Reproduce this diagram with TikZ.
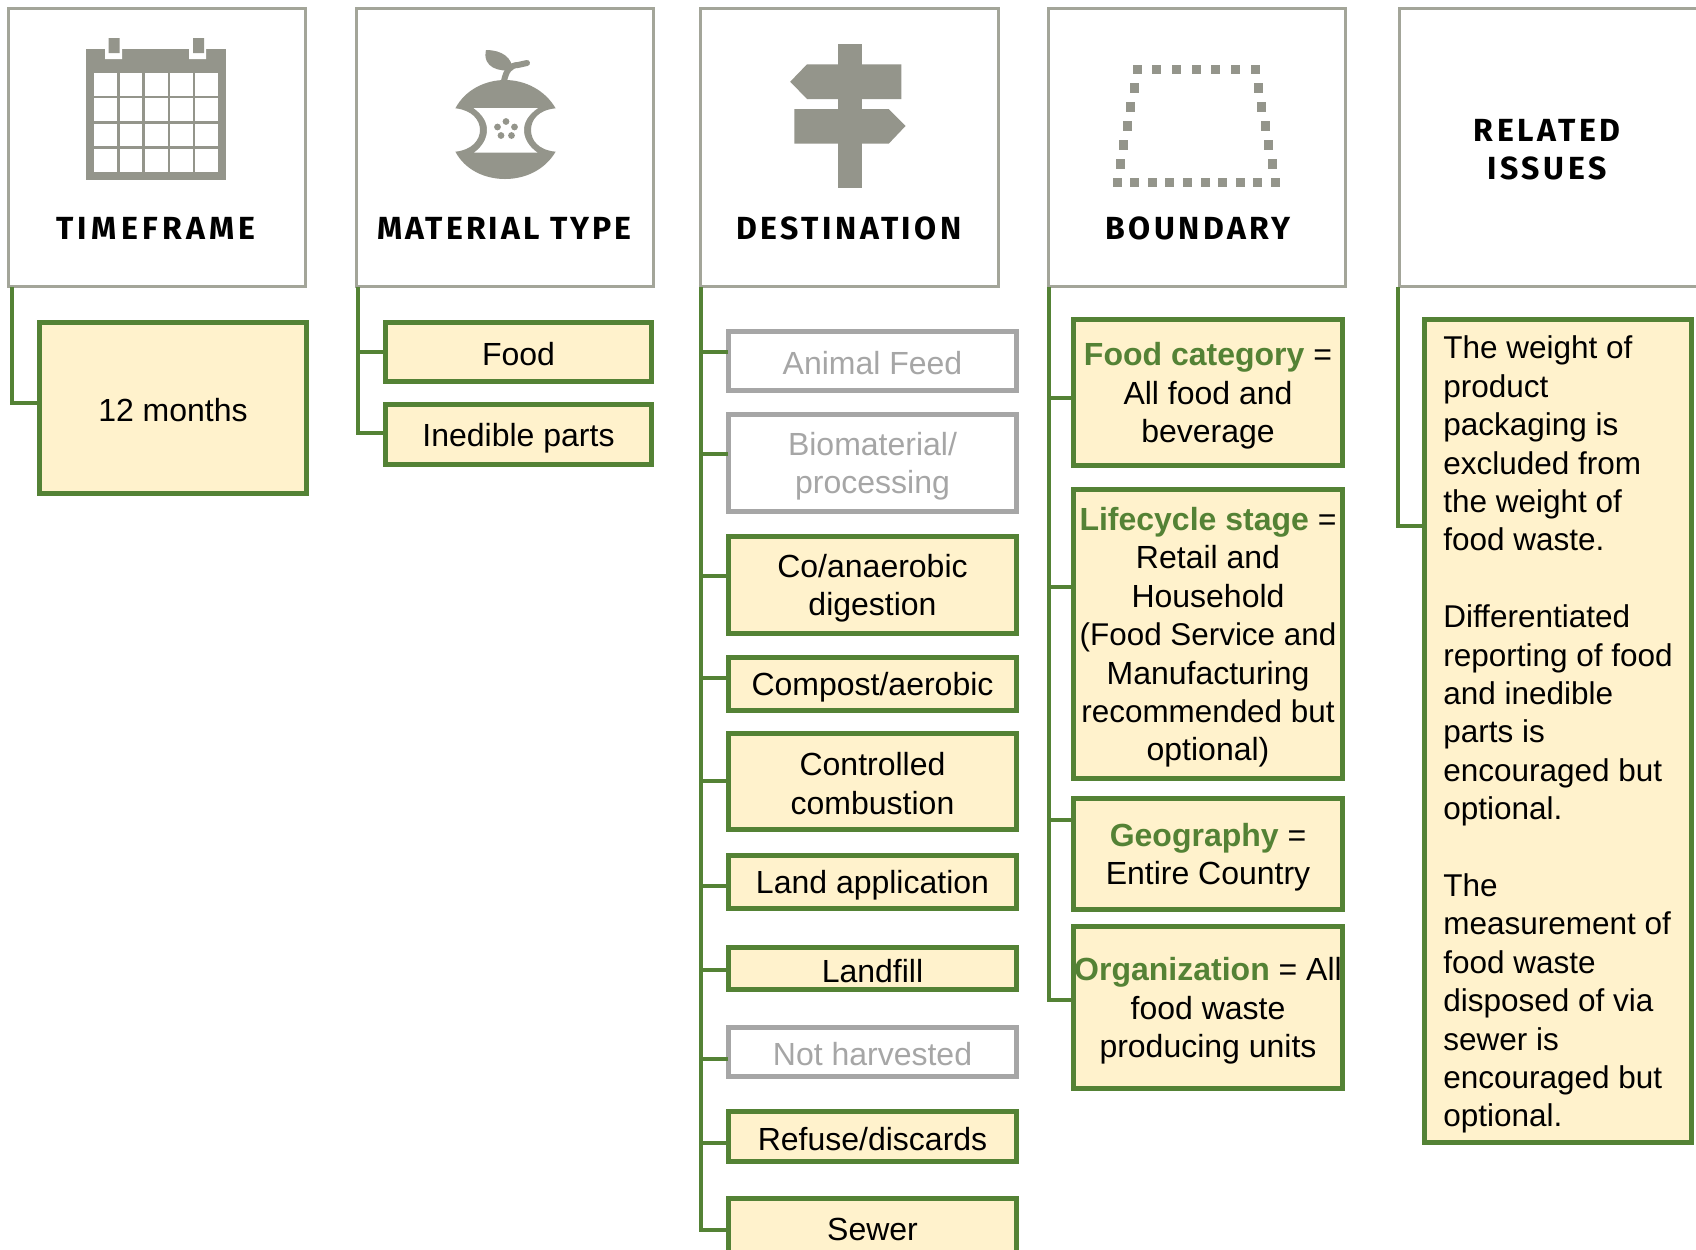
\documentclass[tikz,border=0pt]{standalone}
\usepackage{fontspec}
\setmainfont{Liberation Sans}
\newfontfamily\hdrfont[LetterSpace=11]{Fira Sans}
\definecolor{grn}{HTML}{548235}
\definecolor{cream}{HTML}{FFF2CC}
\definecolor{mute}{HTML}{A6A6A6}
\definecolor{icon}{HTML}{94958B}
\definecolor{hline}{HTML}{A3A599}
\tikzset{
  x=0.5pt,y=-0.5pt,
  every node/.style={inner sep=0pt,outer sep=0pt,align=center,font=\fontsize{16}{19.2}\selectfont},
  hdrbox/.style={draw=hline,line width=1.3pt,fill=white},
  okbox/.style={draw=grn,line width=2.3pt,fill=cream,text=black},
  offbox/.style={draw=mute,line width=2.3pt,fill=white,text=mute},
  conn/.style={draw=grn,line width=1.7pt,line join=miter},
  hdrtext/.style={font=\hdrfont\bfseries\fontsize{16}{19.2}\selectfont,text=black},
}
\newcommand\st{\rule[-1.5pt]{0pt}{16.6pt}}
\newcommand\bx[7]{\node[#6,minimum width={(#4-#2-2.8)*0.5pt},minimum height={(#5-#3-2.8)*0.5pt}] (#1) at ({(#2+#4)/2},{(#3+#5)/2}) {\st #7\st};}
\newcommand\hl[1]{\textcolor{grn}{\textbf{#1}}}
\newcommand\tight[1]{{\fontsize{15.7}{19.2}\selectfont #1}}
\begin{document}
\begin{tikzpicture}
\useasboundingbox (0,0) rectangle (1696,1249);
\clip (0,0) rectangle (1696,1249);
% headers
\bx{h1}{7}{7}{307}{288}{hdrbox}{}
\bx{h2}{355}{7}{655}{288}{hdrbox}{}
\bx{h3}{699}{7}{1000}{288}{hdrbox}{}
\bx{h4}{1047}{7}{1347}{288}{hdrbox}{}
\bx{h5}{1398}{7}{1730}{288}{hdrbox}{}
\node[hdrtext] (t1) at (156,228) {\addfontfeature{LetterSpace=13.6}TIMEFRAME};
\node[hdrtext] (t2) at (504.5,228) {\addfontfeature{LetterSpace=9.4}MATERIAL TYPE};
\node[hdrtext] (t3) at (849,228) {DESTINATION};
\node[hdrtext] (t4) at (1198,228) {BOUNDARY};
\node[hdrtext] (t5) at (1547,149.5) {RELATED\\ISSUES};
% calendar icon
\fill[icon] (86,49) rectangle (226,180);
\fill[white] (105,49) rectangle (122,59) (189,49) rectangle (206,59);
\fill[icon] (108.6,38) rectangle (119.5,53) (193,38) rectangle (204,53);
\foreach \xa/\xb in {94.3/117,119.5/142.3,144.8/167.5,170/192.8,195.3/218}
  \foreach \ya/\yb in {72.7/95.7,98.3/121,123.7/146.3,149/171.7}
    \fill[white] (\xa,\ya) rectangle (\xb,\yb);
% apple icon
\fill[icon] (455.4,108.3) .. controls (465,90) and (485,80) .. (505,80)
  .. controls (525,80) and (545,90) .. (555.6,108.3)
  .. controls (538,110) and (531,120) .. (531,130)
  .. controls (531,140) and (538,150) .. (555.6,151.7)
  .. controls (545,170) and (525,179) .. (505,179)
  .. controls (485,179) and (465,170) .. (455.4,151.7)
  .. controls (472,150) and (480,140) .. (480,130)
  .. controls (480,120) and (472,110) .. cycle;
\fill[white] (473.5,108) -- (538,108) .. controls (528,115) and (524,122) .. (524,130)
  .. controls (524,138) and (528,146) .. (537.5,152.7) -- (474,152.7)
  .. controls (483,146) and (487,138) .. (487,130)
  .. controls (487,122) and (483,115) .. cycle;
\foreach \p/\q in {506/121.5,497.5/127,514.5/127,501/135.5,511.5/135.5}
  \fill[icon] (\p,\q) circle[radius=3.4];
\draw[icon,line width=3pt,line cap=round] (504,81) .. controls (506,71) and (510,65) .. (518,65) -- (527,63);
\fill[icon] (486,50) .. controls (502,50) and (513,58) .. (512,70) .. controls (500,72) and (482,68) .. cycle;
% signpost icon
\fill[icon] (837.7,44) rectangle (862.1,187.7);
\fill[icon] (790.2,81.7) -- (807,64.3) -- (901.3,64.3) -- (901.3,99) -- (807,99) -- cycle;
\fill[icon] (794.4,109) -- (888.7,109) -- (905.5,126) -- (888.7,143.7) -- (794.4,143.7) -- cycle;
% boundary icon
\foreach \p in {1137.4,1156.8,1176.5,1196.3,1215.7,1235.5,1255.2}
  \fill[icon] (\p-4.5,65) rectangle (\p+4.5,73.6);
\foreach \p in {1117.2,1134.9,1152.1,1169.8,1187.5,1205.2,1222.8,1240.1,1257.8,1275}
  \fill[icon] (\p-4.5,178.4) rectangle (\p+4.5,187);
\foreach \p/\q in {1134/88,1130.7/107,1127.3/126,1123.9/145,1120.1/164,1258.2/88,1261.5/107,1265.3/126,1268.7/145,1272.5/164}
  \fill[icon] (\p-4.5,\q-5) rectangle (\p+4.5,\q+5);
% boxes
\bx{months}{38}{321}{308}{495}{okbox}{12 months}
\bx{food}{384}{321}{653}{383}{okbox}{Food}
\bx{inedible}{384}{403}{653}{466}{okbox}{Inedible parts}
\bx{animal}{727}{330}{1018}{392}{offbox}{Animal Feed}
\bx{bio}{727}{413}{1018}{513}{offbox}{Biomaterial/\\processing}
\bx{coan}{727}{535}{1018}{635}{okbox}{Co/anaerobic\\digestion}
\bx{compost}{727}{656}{1018}{712}{okbox}{Compost/aerobic}
\bx{combust}{727}{732}{1018}{831}{okbox}{Controlled\\combustion}
\bx{land}{727}{854}{1018}{910}{okbox}{Land application}
\bx{landfill}{727}{946}{1018}{991}{okbox}{Landfill}
\bx{notharv}{727}{1026}{1018}{1078}{offbox}{Not harvested}
\bx{refuse}{727}{1110}{1018}{1163}{okbox}{Refuse/discards}
\bx{sewer}{727}{1197}{1018}{1256}{okbox}{Sewer}
\bx{foodcat}{1072}{318}{1344}{467}{okbox}{\hl{Food category} =\\All food and\\beverage}
\bx{life}{1072}{488}{1344}{780}{okbox}{\hl{Lifecycle stage} =\\Retail and\\Household\\\tight{(Food Service and}\\Manufacturing\\\tight{recommended but}\\optional)}
\bx{geo}{1072}{797}{1344}{911}{okbox}{\hl{Geography} =\\Entire Country}
\bx{org}{1072}{925}{1344}{1090}{okbox}{\hl{Organization} = All\\food waste\\producing units}
\bx{rel}{1423}{318}{1693}{1144}{okbox,align=left,font=\fontsize{15.75}{19.2}\selectfont}{The weight of\\product\\packaging is\\excluded from\\the weight of\\food waste.\\[19.2pt]Differentiated\\reporting of food\\and inedible\\parts is\\encouraged but\\optional.\\[19.2pt]The\\measurement of\\food waste\\disposed of via\\sewer is\\encouraged but\\optional.}
% connectors
\coordinate (c1) at (12,287);
\coordinate (c2) at (358,287);
\coordinate (c3) at (701,287);
\coordinate (c4) at (1049,287);
\coordinate (c5) at (1398,287);
\draw[conn] (c1) |- (months.west |- 0,403);
\draw[conn] (c2) |- (food.west |- 0,352);
\draw[conn] (c2) |- (inedible.west |- 0,433);
\draw[conn] (c3) |- (animal.west |- 0,352);
\draw[conn] (c3) |- (bio.west |- 0,454);
\draw[conn] (c3) |- (coan.west |- 0,576);
\draw[conn] (c3) |- (compost.west |- 0,678);
\draw[conn] (c3) |- (combust.west |- 0,781);
\draw[conn] (c3) |- (land.west |- 0,886);
\draw[conn] (c3) |- (landfill.west |- 0,970);
\draw[conn] (c3) |- (notharv.west |- 0,1059);
\draw[conn] (c3) |- (refuse.west |- 0,1143);
\draw[conn] (c3) |- (sewer.west |- 0,1230);
\draw[conn] (c4) |- (foodcat.west |- 0,398);
\draw[conn] (c4) |- (life.west |- 0,587);
\draw[conn] (c4) |- (geo.west |- 0,820);
\draw[conn] (c4) |- (org.west |- 0,1000);
\draw[conn] (c5) |- (rel.west |- 0,526);
\end{tikzpicture}
\end{document}
